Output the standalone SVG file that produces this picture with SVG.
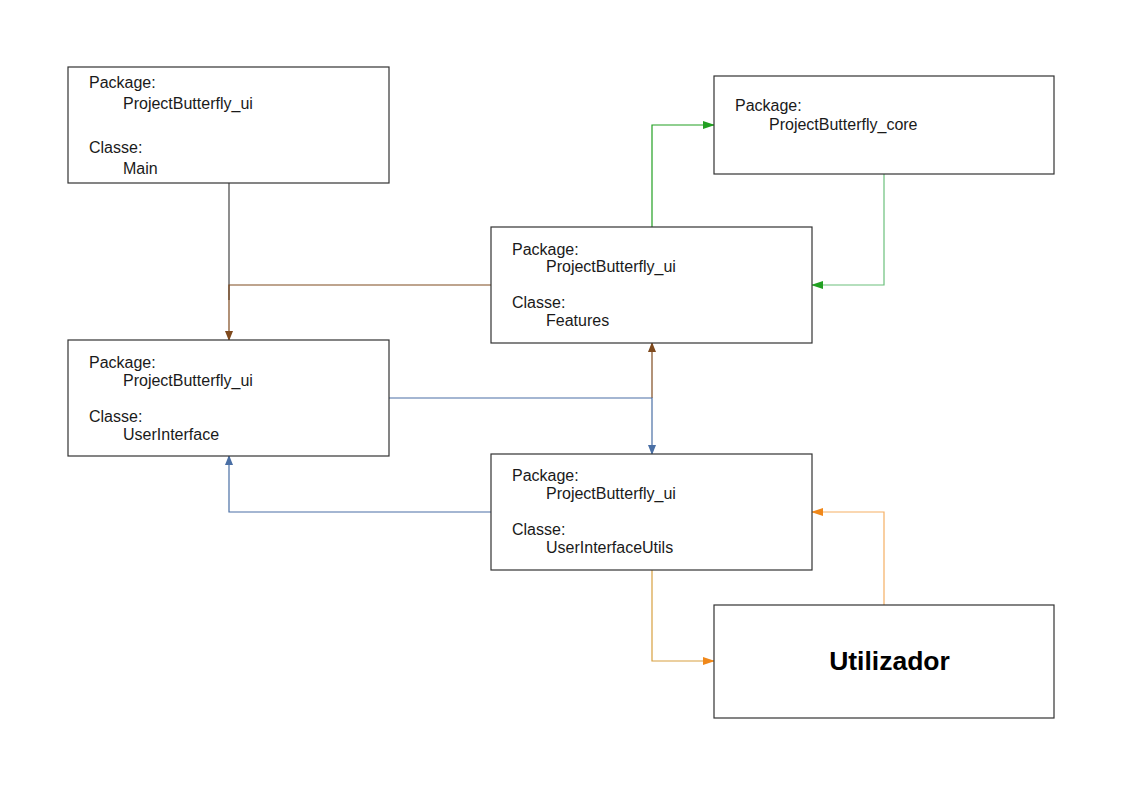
<svg xmlns="http://www.w3.org/2000/svg" width="1123" height="794" viewBox="0 0 1123 794">
<style>
.box{fill:#fff;stroke:#333;stroke-width:1.2}
.t{font-family:"Liberation Sans",Arial,sans-serif;font-size:16px;fill:#1a1a1a}
.big{font-family:"Liberation Sans",Arial,sans-serif;font-size:26.5px;font-weight:bold;fill:#000}
.c{fill:none;stroke-width:1.2}
</style>
<defs>
<marker id="aBrown" markerWidth="10" markerHeight="10" refX="9" refY="5" orient="auto" markerUnits="userSpaceOnUse"><path d="M0,1 L10,5 L0,9 z" fill="#7f4a1e"/></marker>
<marker id="aBlue" markerWidth="10" markerHeight="10" refX="9" refY="5" orient="auto" markerUnits="userSpaceOnUse"><path d="M0,1 L10,5 L0,9 z" fill="#4a6fa5"/></marker>
<marker id="aGreen" markerWidth="12" markerHeight="10" refX="11" refY="5" orient="auto" markerUnits="userSpaceOnUse"><path d="M0,1 L12,5 L0,9 z" fill="#22a022"/></marker>
<marker id="aOrange" markerWidth="12" markerHeight="10" refX="11" refY="5" orient="auto" markerUnits="userSpaceOnUse"><path d="M0,1 L12,5 L0,9 z" fill="#f0881a"/></marker>
</defs>
<rect width="1123" height="794" fill="#fff"/>
<g id="connectors">
<path class="c" d="M229,183 L229,300" stroke="#444"/>
<path class="c" d="M491,285 L229,285 L229,340" stroke="#7f4a1e" marker-end="url(#aBrown)"/>
<path class="c" d="M652,398 L652,343" stroke="#7f4a1e" marker-end="url(#aBrown)"/>
<path class="c" d="M389,398 L652,398 L652,454" stroke="#4a6fa5" marker-end="url(#aBlue)"/>
<path class="c" d="M491,512 L229,512 L229,456" stroke="#4a6fa5" marker-end="url(#aBlue)"/>
<path class="c" d="M652,227 L652,125 L714,125" stroke="#22a022" marker-end="url(#aGreen)"/>
<path class="c" d="M884,174 L884,285 L812,285" stroke="#6cc07c" marker-end="url(#aGreen)"/>
<path class="c" d="M652,570 L652,661 L714,661" stroke="#d8a040" marker-end="url(#aOrange)"/>
<path class="c" d="M884,605 L884,512 L812,512" stroke="#f5b064" marker-end="url(#aOrange)"/>
</g>
<g id="main">
<rect class="box" x="68" y="67" width="321" height="116"/>
<text class="t" x="89" y="88">Package:</text>
<text class="t" x="123" y="109">ProjectButterfly_ui</text>
<text class="t" x="89" y="153">Classe:</text>
<text class="t" x="123" y="174">Main</text>
</g>
<g id="core">
<rect class="box" x="714" y="76" width="340" height="98"/>
<text class="t" x="735" y="111">Package:</text>
<text class="t" x="769" y="130">ProjectButterfly_core</text>
</g>
<g id="features">
<rect class="box" x="491" y="227" width="321" height="116"/>
<text class="t" x="512" y="255">Package:</text>
<text class="t" x="546" y="272">ProjectButterfly_ui</text>
<text class="t" x="512" y="308">Classe:</text>
<text class="t" x="546" y="326">Features</text>
</g>
<g id="userinterface">
<rect class="box" x="68" y="340" width="321" height="116"/>
<text class="t" x="89" y="368">Package:</text>
<text class="t" x="123" y="386">ProjectButterfly_ui</text>
<text class="t" x="89" y="422">Classe:</text>
<text class="t" x="123" y="440">UserInterface</text>
</g>
<g id="userinterfaceutils">
<rect class="box" x="491" y="454" width="321" height="116"/>
<text class="t" x="512" y="481">Package:</text>
<text class="t" x="546" y="499">ProjectButterfly_ui</text>
<text class="t" x="512" y="535">Classe:</text>
<text class="t" x="546" y="553">UserInterfaceUtils</text>
</g>
<g id="utilizador">
<rect class="box" x="714" y="605" width="340" height="113"/>
<text class="big" x="889.5" y="670" text-anchor="middle">Utilizador</text>
</g>
</svg>
